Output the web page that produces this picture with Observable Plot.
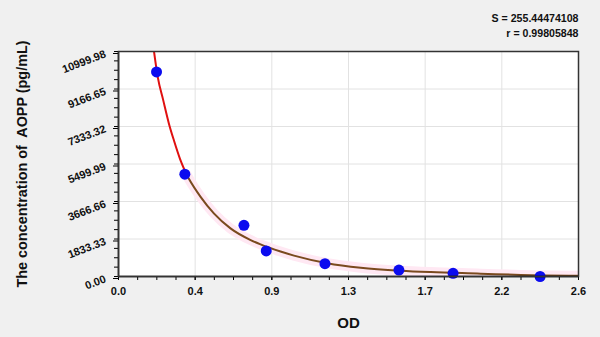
<!DOCTYPE html>
<html>
<head>
<meta charset="utf-8">
<script src="https://cdn.jsdelivr.net/npm/d3@7"></script>
<script src="https://cdn.jsdelivr.net/npm/@observablehq/plot@0.6"></script>
<style>
  html, body { margin: 0; padding: 0; background: #f0f0f0; }
</style>
</head>
<body>
<div id="chart"></div>
<script>
// Standard points (OD vs concentration)
const odValues = [0.215, 0.375, 0.709, 0.835, 1.167, 1.585, 1.891, 2.383];
const concValues = [10000, 5000, 2500, 1250, 625, 312.5, 156.25, 0];

// Fitted curve (red upper part, brown lower part)
const redOD = [0.190, 0.200, 0.222, 0.253, 0.285, 0.313, 0.347, 0.385];
const redConc = [11700, 11049, 9746, 8610, 7473, 6659, 5766, 4980];
const brownOD = [0.385, 0.397, 0.464, 0.539, 0.633, 0.747, 0.803, 0.916, 0.992, 1.180, 1.369, 1.595, 1.765, 2.047, 2.274, 2.600];
const brownConc = [4980, 4790, 3893, 3083, 2351, 1780, 1570, 1220, 1020, 650, 429, 283, 215, 140, 75, 38];

// Axis ticks
const xTicks = [0, 2.6 / 6, 5.2 / 6, 1.3, 10.4 / 6, 13 / 6, 2.6];
const yTicks = [0, 1833.33, 3666.66, 5499.99, 7333.32, 9166.65, 10999.98];

const statS = "S = 255.44474108";
const statR = "r = 0.99805848";
const xTitle = "OD";
const yTitle = "The concentration of\u00a0 AOPP (pg/mL)";

const xMinor = d3.range(0, 25).map(i => i * 2.6 / 24);
const yMinor = d3.range(0, 25).map(i => i * 10999.98 / 24);

const points = odValues.map((od, i) => ({od, conc: concValues[i]}));
const red = redOD.map((od, i) => ({od, conc: redConc[i]}));
const brown = brownOD.map((od, i) => ({od, conc: brownConc[i]}));

const font = "'Liberation Sans', Arial, sans-serif";

const chart = Plot.plot({
  width: 600,
  height: 337,
  marginLeft: 118,
  marginRight: 22,
  marginTop: 51,
  marginBottom: 61,
  style: {background: "#f0f0f0", fontFamily: font, color: "#111"},
  x: {domain: [0, 2.6]},
  y: {domain: [0, 10999.98]},
  marks: [
    Plot.frame({fill: "white"}),
    Plot.gridX({ticks: xTicks, stroke: "#e2e2e2", strokeOpacity: 1}),
    Plot.gridY({ticks: yTicks, stroke: "#e2e2e2", strokeOpacity: 1}),
    Plot.axisX({ticks: xMinor, tickSize: 4, text: null, stroke: "#000", label: null}),
    Plot.axisX({ticks: xTicks, tickSize: 4, tickPadding: 7, tickFormat: d => d.toFixed(1),
      fontWeight: "bold", fontSize: 11, stroke: "#000", label: null}),
    Plot.axisY({ticks: yMinor, tickSize: 4, text: null, stroke: "#000", label: null}),
    Plot.axisY({ticks: yTicks, tickSize: 5, tickPadding: 8, tickRotate: -21, dy: 2, tickFormat: d => d.toFixed(2),
      fontWeight: "bold", fontSize: 11, stroke: "#000", label: null}),
    Plot.line(brown, {x: "od", y: "conc", stroke: "#ffe8f3", strokeWidth: 10, curve: "monotone-x", clip: true}),
    Plot.line(brown, {x: "od", y: "conc", stroke: "#7a4a1e", strokeWidth: 2, curve: "monotone-x", clip: true}),
    Plot.line(red, {x: "od", y: "conc", stroke: "#e01010", strokeWidth: 2, curve: "monotone-x", clip: true}),
    Plot.dot(points, {x: "od", y: "conc", r: 5.5, fill: "#0b0bef", stroke: "none"}),
    Plot.ruleX([0], {stroke: "#000", strokeWidth: 1.5}),
    Plot.ruleY([0], {stroke: "#000", strokeWidth: 1.5}),
    Plot.frame({stroke: "#333", strokeWidth: 1.5}),
    Plot.text([statS], {frameAnchor: "top-right", dy: -33, textAnchor: "end", lineAnchor: "middle",
      fontSize: 10.6, fontWeight: "bold", fill: "#111"}),
    Plot.text([statR], {frameAnchor: "top-right", dy: -18, textAnchor: "end", lineAnchor: "middle",
      fontSize: 10.6, fontWeight: "bold", fill: "#111"}),
    Plot.text([xTitle], {frameAnchor: "bottom", dy: 47, textAnchor: "middle", lineAnchor: "middle",
      fontSize: 15, fontWeight: "bold", fill: "#111"}),
    Plot.text([yTitle], {frameAnchor: "left", dx: -96, rotate: -90, textAnchor: "middle", lineAnchor: "middle",
      fontSize: 14.4, fontWeight: "bold", fill: "#111"})
  ]
});

document.getElementById("chart").appendChild(chart);
</script>
</body>
</html>
